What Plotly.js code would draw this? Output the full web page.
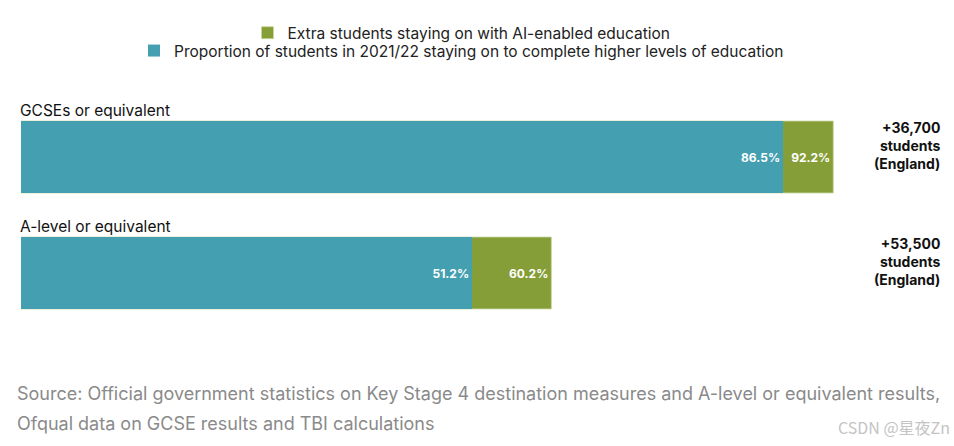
<!DOCTYPE html>
<html>
<head>
<meta charset="utf-8">
<script src="https://cdn.plot.ly/plotly-3.0.1.min.js"></script>
<style>html,body{margin:0;padding:0;background:#fff;}#chart{width:954px;height:446px;}</style>
</head>
<body>
<div id="chart"></div>
<script>
const categories = ["GCSEs or equivalent", "A-level or equivalent"];
const baseline = [86.5, 51.2];
const withAI = [92.2, 60.2];
const extraStudents = ["+36,700", "+53,500"];
const seriesNames = [
  "Proportion of students in 2021/22 staying on to complete higher levels of education",
  "Extra students staying on with AI-enabled education"
];

const teal = "rgb(68,160,176)";
const green = "rgb(134,158,56)";
const sans = "Inter, Liberation Sans, Arial, sans-serif";
const boldFont = "Inter, Liberation Sans, sans-serif";

const fmt = v => v.toFixed(1) + "%";

const traces = [
  {
    type: "bar", orientation: "h", name: seriesNames[1], legend: "legend",
    y: categories, x: withAI,
    marker: {color: green, line: {color: "rgba(200,215,160,0.8)", width: 1}},
    text: withAI.map(fmt), textposition: "inside", insidetextanchor: "end",
    textfont: {color: "#fff", size: 12, family: boldFont, weight: 700},
    constraintext: "none", hoverinfo: "skip", width: 0.62
  },
  {
    type: "bar", orientation: "h", name: seriesNames[0], legend: "legend2",
    y: categories, x: baseline,
    marker: {color: teal, line: {color: "rgba(180,215,222,0.6)", width: 0}},
    text: baseline.map(fmt), textposition: "inside", insidetextanchor: "end",
    textfont: {color: "#fff", size: 12, family: boldFont, weight: 700},
    constraintext: "none", hoverinfo: "skip", width: 0.62
  }
];

const annotations = [];
categories.forEach((c, i) => {
  annotations.push({
    xref: "paper", yref: "y", x: 0, y: c, xanchor: "left", yanchor: "bottom",
    xshift: -3, yshift: 35, text: c, showarrow: false,
    font: {family: sans, size: 15.5, color: "#111"}
  });
  annotations.push({
    xref: "paper", yref: "y", x: 1, y: c, xanchor: "right", yanchor: "middle",
    xshift: 40, yshift: 12, align: "right", showarrow: false,
    text: "<b>" + extraStudents[i] + "<br>students<br>(England)</b>",
    font: {family: boldFont, size: 14, color: "#111"}
  });
});
annotations.push({
  xref: "paper", yref: "paper", x: 0, y: -0.27, xanchor: "left", yanchor: "middle",
  xshift: -6, showarrow: false,
  text: "Source: Official government statistics on Key Stage 4 destination measures and A-level or equivalent results,",
  font: {family: sans, size: 18, color: "#8a8a8a"}
});
annotations.push({
  xref: "paper", yref: "paper", x: 0, y: -0.40, xanchor: "left", yanchor: "middle",
  xshift: -6, showarrow: false,
  text: "Ofqual data on GCSE results and TBI calculations",
  font: {family: sans, size: 18, color: "#8a8a8a"}
});
annotations.push({
  xref: "paper", yref: "paper", x: 1, y: -0.415, xanchor: "right", yanchor: "middle",
  xshift: 50, showarrow: false,
  text: "CSDN @星夜Zn",
  font: {family: "Noto Sans CJK SC, sans-serif", size: 16, color: "#c4c4c4"}
});

const legendCommon = {
  x: 0.5, xanchor: "center", yanchor: "middle", orientation: "h",
  itemwidth: 30, font: {family: sans, size: 15.5, color: "#222"},
  bgcolor: "rgba(0,0,0,0)", itemclick: false
};

const layout = {
  width: 954, height: 446,
  margin: {l: 21, r: 52, t: 99, b: 115},
  paper_bgcolor: "#fff", plot_bgcolor: "#fff",
  barmode: "overlay",
  showlegend: true,
  xaxis: {range: [0, 100], visible: false, fixedrange: true},
  yaxis: {type: "category", autorange: "reversed", visible: false, fixedrange: true, range: [1.5, -0.5]},
  legend: Object.assign({}, legendCommon, {y: 1.284}),
  legend2: Object.assign({}, legendCommon, {y: 1.207}),
  annotations: annotations
};

Plotly.newPlot("chart", traces, layout, {displayModeBar: false, staticPlot: true});
</script>
</body>
</html>
